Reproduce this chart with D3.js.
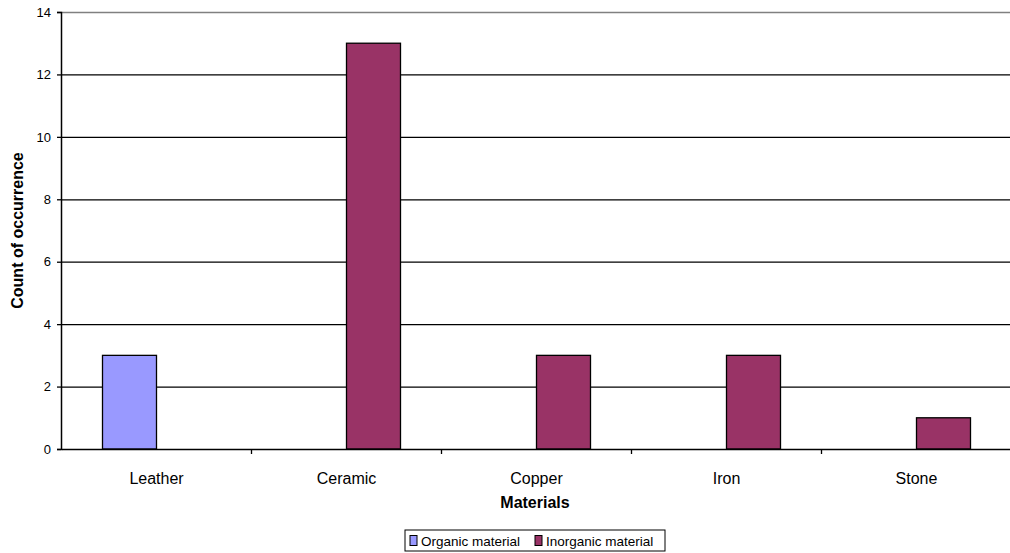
<!DOCTYPE html>
<html>
<head>
<meta charset="utf-8">
<script src="https://cdn.jsdelivr.net/npm/d3@7"></script>
<style>
  body { margin: 0; background: #fff; }
  text { font-family: "Liberation Sans", Arial, sans-serif; }
</style>
</head>
<body>
<svg width="1010" height="553"></svg>
<script>
const svg = d3.select("svg");

const margin = { top: 12, right: -1.5, bottom: 104, left: 61 };
const width = 1010, height = 553;

// data
const categories = ["Leather", "Ceramic", "Copper", "Iron", "Stone"];
const seriesNames = ["Organic material", "Inorganic material"];
const organic = [3, 0, 0, 0, 0];
const inorganic = [0, 13, 3, 3, 1];
const yTicks = [0, 2, 4, 6, 8, 10, 12, 14];
const colors = ["#9999ff", "#993366"];

const series = [organic, inorganic];

const x = d3.scaleBand()
    .domain(categories)
    .range([margin.left + 0.5, width - margin.right])
    .paddingInner(0)
    .paddingOuter(0);

const y = d3.scaleLinear()
    .domain([0, 14])
    .range([height - margin.bottom, margin.top]);

const barW = 54;

// gridlines
svg.append("g")
    .selectAll("line")
    .data(yTicks.filter(d => d > 0))
    .join("line")
    .attr("x1", margin.left)
    .attr("x2", width)
    .attr("y1", d => y(d) + 0.5)
    .attr("y2", d => y(d) + 0.5)
    .attr("stroke", d => d === 14 ? "#808080" : "#000")
    .attr("stroke-width", 1.3);

// bars
series.forEach((vals, si) => {
    svg.append("g")
        .selectAll("rect")
        .data(categories.map((c, i) => ({ c, v: vals[i] })).filter(d => d.v > 0))
        .join("rect")
        .attr("x", d => x(d.c) + x.bandwidth() / 2 - barW + si * barW)
        .attr("y", d => y(d.v))
        .attr("width", barW)
        .attr("height", d => y(0) - y(d.v))
        .attr("fill", colors[si])
        .attr("stroke", "#000")
        .attr("stroke-width", 1.3);
});

// y axis
const yAxis = svg.append("g")
    .attr("transform", `translate(${margin.left},0)`)
    .call(d3.axisLeft(y).tickValues(yTicks).tickSize(4).tickPadding(6));
yAxis.select(".domain").attr("stroke", "#000").attr("stroke-width", 1.5);
yAxis.selectAll("line").attr("stroke", "#000").attr("stroke-width", 1.3);
yAxis.selectAll("text").attr("font-size", 13).attr("font-family", "Liberation Sans, Arial, sans-serif");

// x axis
const xAxis = svg.append("g")
    .attr("transform", `translate(0,${y(0)})`)
    .call(d3.axisBottom(x).tickSize(0).tickPadding(23.5));
xAxis.select(".domain").attr("stroke", "#000").attr("stroke-width", 1.5);
xAxis.selectAll("text").attr("font-size", 16).attr("font-family", "Liberation Sans, Arial, sans-serif");

// category boundary ticks
const bounds = categories.map(c => x(c)).concat([x(categories[categories.length - 1]) + x.bandwidth()]);
svg.append("g")
    .selectAll("line")
    .data(bounds.filter(b => b < width && b > margin.left + 2))
    .join("line")
    .attr("x1", d => d)
    .attr("x2", d => d)
    .attr("y1", y(0))
    .attr("y2", y(0) + 5)
    .attr("stroke", "#000")
    .attr("stroke-width", 1.3);

// axis titles
svg.append("text")
    .attr("x", 535)
    .attr("y", 508)
    .attr("text-anchor", "middle")
    .attr("font-size", 16)
    .attr("font-weight", "bold")
    .text("Materials");

svg.append("text")
    .attr("transform", `translate(17.5,${(y(0) + y(14)) / 2}) rotate(-90)`)
    .attr("text-anchor", "middle")
    .attr("dy", "0.35em")
    .attr("font-size", 16)
    .attr("font-weight", "bold")
    .text("Count of occurrence");

// legend
const legend = svg.append("g").attr("transform", "translate(405,530)");
legend.append("rect")
    .attr("width", 260)
    .attr("height", 21)
    .attr("fill", "#fff")
    .attr("stroke", "#000")
    .attr("stroke-width", 1);
const items = [
    { name: seriesNames[0], x: 5 },
    { name: seriesNames[1], x: 130 }
];
items.forEach((it, i) => {
    legend.append("rect")
        .attr("x", it.x)
        .attr("y", 5.5)
        .attr("width", 7)
        .attr("height", 10)
        .attr("fill", colors[i])
        .attr("stroke", "#000")
        .attr("stroke-width", 1);
    legend.append("text")
        .attr("x", it.x + 11)
        .attr("y", 15.5)
        .attr("font-size", 13.5)
        .text(it.name);
});
</script>
</body>
</html>
